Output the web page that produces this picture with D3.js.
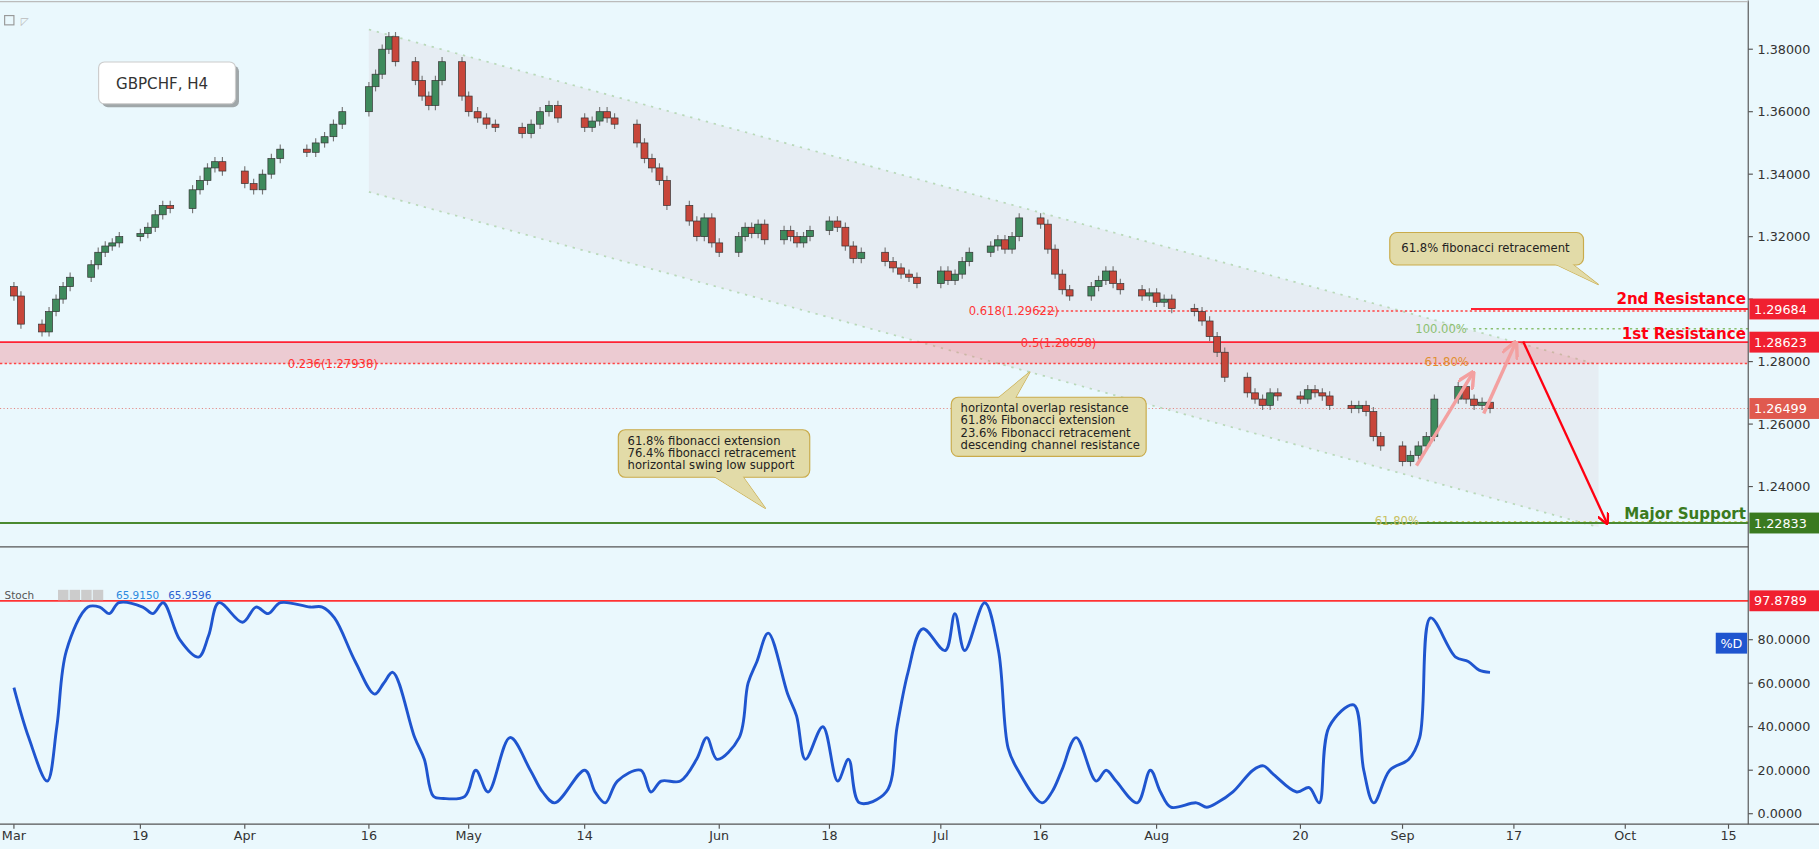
<!DOCTYPE html>
<html><head><meta charset="utf-8">
<script src="https://cdn.jsdelivr.net/npm/d3@7"></script>
<style>body{margin:0;background:#eaf8fd;overflow:hidden}svg{display:block}</style>
</head><body><svg id="c" width="1819" height="849" viewBox="0 0 1568 731"></svg>
<script>
const tickDates=["2018-03-01","2018-03-19","2018-04-02","2018-04-16","2018-05-01","2018-05-14","2018-06-01","2018-06-18","2018-07-02","2018-07-16","2018-08-01","2018-08-20","2018-09-03","2018-09-17","2018-10-01","2018-10-15"];
const tickLabels=["Mar","19","Apr","16","May","14","Jun","18","Jul","16","Aug","20","Sep","17","Oct","15"];
const tickPix=[12,121,211,318,404,504,620,715,811,897,997,1121,1209,1305,1401,1490];
const closes=[1.3010,1.2920,1.2895,1.2960,1.3000,1.3040,1.3070,1.3110,1.3150,1.3170,1.3180,1.3200,1.3210,1.3230,1.3270,1.3300,1.3290,1.3350,1.3380,1.3420,1.3440,1.3410,
1.3370,1.3350,1.3400,1.3450,1.3480,1.3470,1.3500,1.3520,1.3560,1.3600,1.3680,1.3720,1.3800,1.3840,1.3760,1.3700,1.3650,1.3620,1.3700,1.3760,1.3650,
1.3600,1.3580,1.3560,1.3550,1.3530,1.3560,1.3600,1.3620,1.3580,1.3550,1.3570,1.3600,1.3580,1.3560,1.3500,1.3450,1.3420,1.3380,1.3300,1.3250,1.3200,1.3260,1.3180,
1.3150,1.3200,1.3230,1.3210,1.3240,1.3190,1.3220,1.3200,1.3180,1.3200,1.3220,1.3250,1.3230,1.3170,1.3130,1.3150,1.3120,1.3100,1.3080,1.3070,1.3050,
1.3090,1.3060,1.3080,1.3120,1.3150,1.3170,1.3190,1.3160,1.3200,1.3260,1.3240,1.3160,1.3080,1.3030,1.3010,1.3040,1.3060,1.3090,1.3050,1.3030,1.3010,1.3020,
1.2990,1.3000,1.2970,1.2960,1.2930,1.2880,1.2830,1.2750,1.2700,1.2680,1.2660,1.2700,1.2690,1.2680,1.2710,1.2700,1.2690,1.2660,1.2650,1.2660,1.2640,1.2560,1.2530,
1.2480,1.2500,1.2530,1.2560,1.2680,1.2720,1.2680,1.2660,1.2670,1.2650];
const stoch=[58,35,15,40,75,95,95,92,97,95,92,97,80,72,82,97,88,95,92,97,95,95,90,70,55,60,65,35,25,8,7,8,20,10,35,20,10,5,20,10,5,15,20,10,15,15,25,35,25,35,60,70,83,55,45,25,40,15,25,5,10,40,65,85,75,92,75,97,75,30,20,5,10,20,35,15,20,15,5,20,10,3,5,3,5,10,20,22,18,10,12,5,40,50,20,5,20,25,35,90,72,70,66,65];
const priceTicks=[1.38,1.36,1.34,1.32,1.30,1.28,1.26,1.24];
const stochTicks=[0,20,40,60,80];
const levels={r2:1.29684,r1:1.28623,fib236:1.27938,fib618:1.29622,ext100:1.2905,cur:1.26499,sup:1.22833,stochTop:97.8789};

const svg=d3.select("#c");
const W=1507;
const x=d3.scaleTime().domain(tickDates.map(d=>new Date(d))).range(tickPix);
const y=d3.scaleLinear().domain([1.24,1.38]).range([419,42]);
const ys=d3.scaleLinear().domain([0,80]).range([701,551]);
const days=[];{let d=new Date("2018-03-01");while(days.length<closes.length){if(d.getDay()%6!==0)days.push(new Date(d));d=new Date(d.getTime()+864e5);}}
svg.append("rect").attr("width",1568).attr("height",731).attr("fill","#eaf8fd");
const P=svg.append("g");
const chan=[[318,25],[1378,314],[1378,454],[318,165]];
P.append("path").attr("d","M"+chan.join("L")+"Z").attr("fill","#e6ecf2").attr("opacity",0.95);
P.append("line").attr("x1",318).attr("y1",25).attr("x2",1378).attr("y2",314).attr("stroke","#b9d8b9").attr("stroke-dasharray","2,5").attr("stroke-width",1.5);
P.append("line").attr("x1",318).attr("y1",165).attr("x2",1378).attr("y2",454).attr("stroke","#b9d8b9").attr("stroke-dasharray","2,5").attr("stroke-width",1.5);
P.append("rect").attr("x",0).attr("y",y(levels.r1)).attr("width",W).attr("height",y(levels.fib236)-y(levels.r1)).attr("fill","rgba(240,120,130,0.35)");
P.append("line").attr("x1",0).attr("x2",W).attr("y1",y(levels.r1)).attr("y2",y(levels.r1)).attr("stroke","#f23").attr("stroke-width",1.5);
P.append("line").attr("x1",0).attr("x2",W).attr("y1",y(levels.fib236)).attr("y2",y(levels.fib236)).attr("stroke","#f44").attr("stroke-dasharray","2,2").attr("stroke-width",1.3);
P.append("line").attr("x1",895).attr("x2",W).attr("y1",y(levels.fib618)).attr("y2",y(levels.fib618)).attr("stroke","#f44").attr("stroke-dasharray","2,2").attr("stroke-width",1.3);
P.append("line").attr("x1",1268).attr("x2",W).attr("y1",y(levels.r2)).attr("y2",y(levels.r2)).attr("stroke","#f23").attr("stroke-width",1.8);
P.append("line").attr("x1",1270).attr("x2",W).attr("y1",y(levels.ext100)).attr("y2",y(levels.ext100)).attr("stroke","#8bc070").attr("stroke-dasharray","2,3").attr("stroke-width",1.3);
P.append("line").attr("x1",0).attr("x2",W).attr("y1",y(levels.cur)).attr("y2",y(levels.cur)).attr("stroke","#e28a86").attr("stroke-dasharray","1,2");
P.append("line").attr("x1",1230).attr("x2",W).attr("y1",y(1.2288)).attr("y2",y(1.2288)).attr("stroke","#c8d070").attr("stroke-dasharray","2,3");
P.append("line").attr("x1",0).attr("x2",W).attr("y1",y(levels.sup)).attr("y2",y(levels.sup)).attr("stroke","#4a8a30").attr("stroke-width",1.8);
const t=(xx,yy,s,o)=>{o=o||{};return P.append("text").attr("x",xx).attr("y",yy).text(s).attr("font-family","DejaVu Sans").attr("font-size",o.fs||11).attr("fill",o.c||"#222").attr("font-weight",o.fw||"normal").attr("text-anchor",o.a||"start");};
t(248,317,"0.236(1.27938)",{c:"#f33",fs:10});
t(835,271,"0.618(1.29622)",{c:"#f33",fs:10});
t(880,299,"0.5(1.28658)",{c:"#f33",fs:10});
t(1220,287,"100.00%",{c:"#8bc070",fs:10});
t(1228,315,"61.80%",{c:"#e09030",fs:10});
t(1185,452,"61.80%",{c:"#c8c060",fs:10});
const cw=6;
closes.forEach((c,i)=>{const o=i?closes[i-1]:c+0.003;const cx=x(days[i]);const up=c>=o;
 const hi=Math.max(o,c)+0.0015,lo=Math.min(o,c)-0.0015;
 P.append("line").attr("x1",cx).attr("x2",cx).attr("y1",y(hi)).attr("y2",y(lo)).attr("stroke","#777");
 P.append("rect").attr("x",cx-cw/2).attr("width",cw).attr("y",y(Math.max(o,c))).attr("height",Math.max(1.5,Math.abs(y(o)-y(c)))).attr("fill",up?"#3e8a5c":"#c8463a").attr("stroke","#333").attr("stroke-width",0.6);});
const defs=svg.append("defs");
const mk=(id,col)=>defs.append("marker").attr("id",id).attr("viewBox","0 0 10 10").attr("refX",8).attr("refY",5).attr("markerWidth",5).attr("markerHeight",5).attr("orient","auto").append("path").attr("d","M0,0L10,5L0,10").attr("fill","none").attr("stroke",col).attr("stroke-width",2);
mk("pa","#f3a0a0");mk("ra","#f01");
P.append("line").attr("x1",1221).attr("y1",401).attr("x2",1269).attr("y2",322).attr("stroke","#f3a0a0").attr("stroke-width",3).attr("marker-end","url(#pa)");
P.append("line").attr("x1",1279).attr("y1",356).attr("x2",1306).attr("y2",296).attr("stroke","#f3a0a0").attr("stroke-width",3).attr("marker-end","url(#pa)");
P.append("line").attr("x1",1313).attr("y1",294).attr("x2",1385).attr("y2",450).attr("stroke","#f01").attr("stroke-width",2).attr("marker-end","url(#ra)");
function box(x0,y0,w,h,tail,lines){P.append("path").attr("d",`M${tail[0]},${tail[1]}L${tail[2]},${tail[3]}L${tail[4]},${tail[5]}Z`).attr("fill","#e2dba8").attr("stroke","#c9ab4b");
 P.append("rect").attr("x",x0).attr("y",y0).attr("width",w).attr("height",h).attr("rx",6).attr("fill","#e2dba8").attr("stroke","#c9ab4b");
 P.append("path").attr("d",`M${tail[0]},${tail[1]}L${tail[2]},${tail[3]}L${tail[4]},${tail[5]}`).attr("fill","#e2dba8");
 lines.forEach((l,i)=>t(x0+8,y0+13+i*10.5,l,{fs:10}));}
box(820,342,168,51,[860,343,888,320,875,343],["horizontal overlap resistance","61.8% Fibonacci extension","23.6% Fibonacci retracement","descending channel resistance"]);
box(533,370,165,41,[615,410,660,438,640,410],["61.8% fibonacci extension","76.4% fibonacci retracement","horizontal swing low support"]);
box(1198,200,167,28,[1340,227,1378,245,1355,227],[]);
t(1208,217,"61.8% fibonacci retracement",{fs:10});
P.append("rect").attr("x",88).attr("y",56).attr("width",118).attr("height",36).attr("rx",5).attr("fill","#555").attr("opacity",0.5);
P.append("rect").attr("x",85).attr("y",53).attr("width",118).attr("height",36).attr("rx",5).attr("fill","#fff").attr("stroke","#ccc");
t(100,76,"GBPCHF, H4",{fs:13,c:"#333"});
P.append("rect").attr("x",4).attr("y",13).attr("width",8).attr("height",8).attr("fill","none").attr("stroke","#999");
t(18,21,"◸",{fs:9,c:"#bbb"});
t(1505,262,"2nd Resistance",{a:"end",c:"#f01",fw:"bold",fs:13});
t(1505,292,"1st Resistance",{a:"end",c:"#f01",fw:"bold",fs:13});
t(1505,447,"Major Support",{a:"end",c:"#3a7a20",fw:"bold",fs:13});
P.append("line").attr("x1",0).attr("x2",W).attr("y1",471).attr("y2",471).attr("stroke","#555");
P.append("line").attr("x1",0).attr("x2",W).attr("y1",ys(levels.stochTop)).attr("y2",ys(levels.stochTop)).attr("stroke","#f33").attr("stroke-width",1.5);
const n=stoch.length;
const sx=i=>{const f=i*(days.length-1)/(n-1);const a=Math.floor(f),b=Math.min(days.length-1,a+1);return x(days[a])+(x(days[b])-x(days[a]))*(f-a);};
P.append("path").datum(stoch).attr("d",d3.line().x((d,i)=>sx(i)).y(d=>ys(d)).curve(d3.curveCatmullRom)).attr("fill","none").attr("stroke","#1f55cf").attr("stroke-width",2.5);
t(4,516,"Stoch",{fs:9,c:"#555"});
[52,62,72,82].forEach(d=>P.append("rect").attr("x",d-2).attr("y",508).attr("width",9).attr("height",9).attr("fill","#ccc"));
t(100,516,"65.9150",{fs:9,c:"#2a8ae0"});t(145,516,"65.9596",{fs:9,c:"#2a60d0"});
P.append("line").attr("x1",W).attr("x2",W).attr("y1",0).attr("y2",710).attr("stroke","#555");
P.append("line").attr("x1",0).attr("x2",1568).attr("y1",710).attr("y2",710).attr("stroke","#555");
P.append("line").attr("x1",0).attr("x2",W).attr("y1",1).attr("y2",1).attr("stroke","#bbb");
const labY=[levels.r2,levels.r1,levels.cur,levels.sup].map(v=>y(v));
priceTicks.forEach(v=>{P.append("line").attr("x1",W).attr("x2",W+4).attr("y1",y(v)).attr("y2",y(v)).attr("stroke","#555");
 if(labY.every(l=>Math.abs(l-y(v))>13))t(1515,y(v)+4,v.toFixed(5),{fs:11,c:"#333"});});
stochTicks.forEach(v=>{P.append("line").attr("x1",W).attr("x2",W+4).attr("y1",ys(v)).attr("y2",ys(v)).attr("stroke","#555");t(1515,ys(v)+4,v.toFixed(4),{fs:11,c:"#333"});});
tickDates.forEach((d,i)=>{const xx=x(new Date(d));P.append("line").attr("x1",xx).attr("x2",xx).attr("y1",710).attr("y2",714).attr("stroke","#555");t(xx,724,tickLabels[i],{a:"middle",fs:11,c:"#333"});});
const lab=(v,yy,col)=>{P.append("rect").attr("x",W+1).attr("y",yy-9).attr("width",60).attr("height",18).attr("fill",col);t(1512,yy+4,v,{fs:11,c:"#fff"});};
lab(levels.r2.toFixed(5),y(levels.r2),"#f02030");
lab(levels.r1.toFixed(5),y(levels.r1),"#f02030");
lab(levels.cur.toFixed(5),y(levels.cur),"#e05a4f");
lab(levels.sup.toFixed(5),y(levels.sup),"#3a7a20");
lab(levels.stochTop.toFixed(4),ys(levels.stochTop),"#f02030");
P.append("rect").attr("x",1479).attr("y",545).attr("width",27).attr("height",18).attr("fill","#1f55cf");t(1483,558,"%D",{fs:11,c:"#fff"});
</script></body></html>
